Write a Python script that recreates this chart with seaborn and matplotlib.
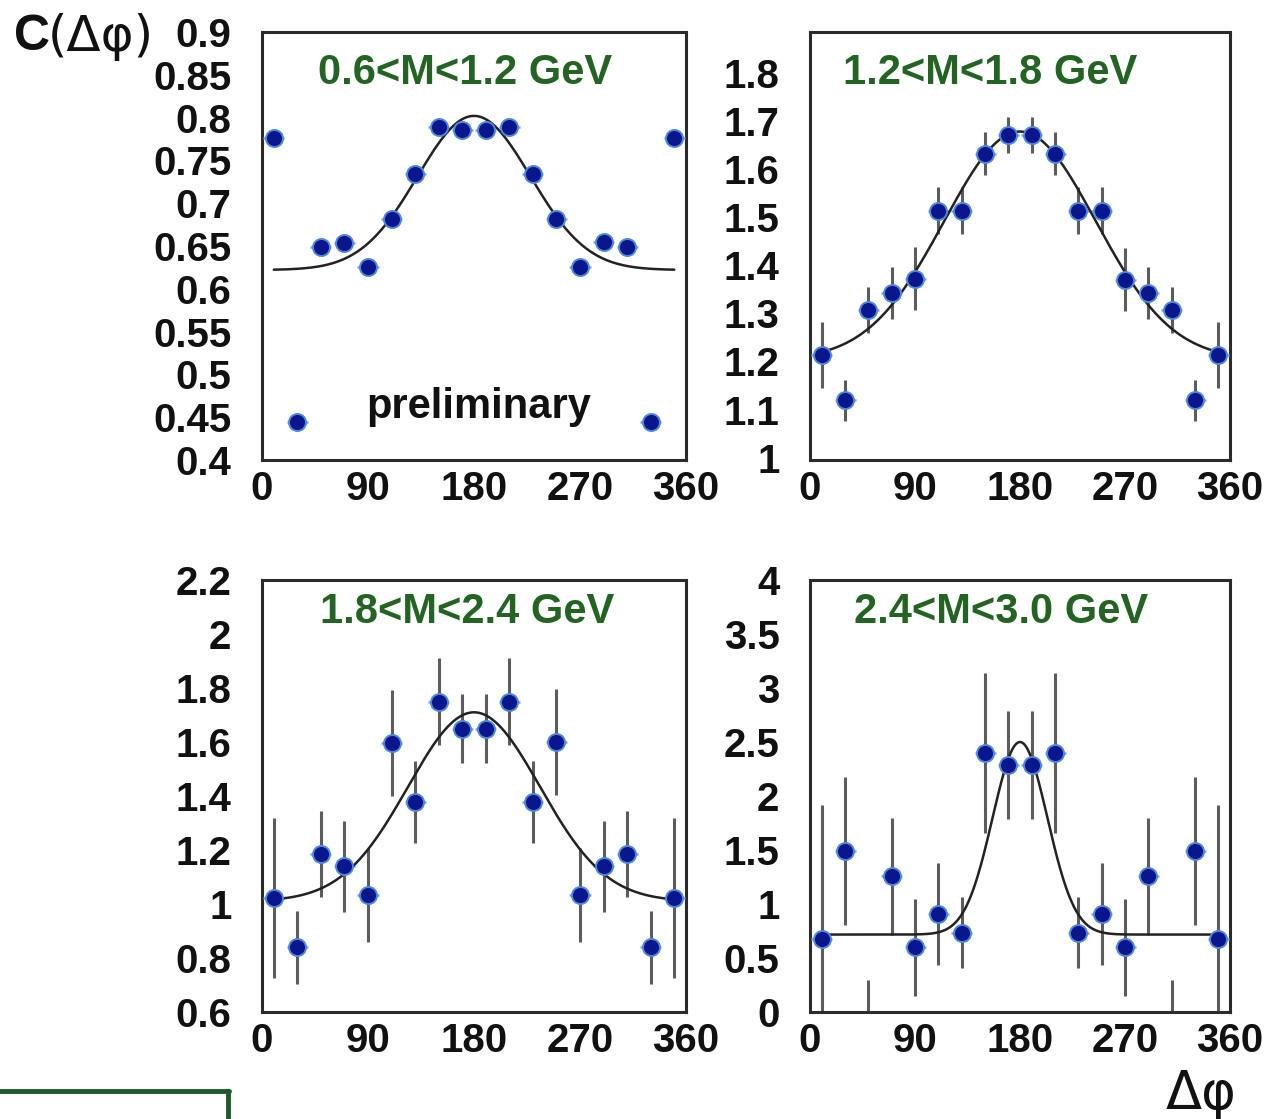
import numpy as np
import pandas as pd
import matplotlib
matplotlib.use("Agg")
import matplotlib.pyplot as plt
from matplotlib.ticker import MultipleLocator, FuncFormatter
from matplotlib.lines import Line2D
import seaborn as sns

sns.set_theme(style="white")
plt.rcParams['font.family'] = ['Liberation Sans', 'DejaVu Sans']

# ---------------- data ----------------
dphi = [10, 30, 50, 70, 90, 110, 130, 150, 170, 190, 210, 230, 250, 270, 290, 310, 330, 350]

labels = ["0.6<M<1.2 GeV", "1.2<M<1.8 GeV", "1.8<M<2.4 GeV", "2.4<M<3.0 GeV"]

c1 = [0.776, 0.444, 0.649, 0.653, 0.625, 0.682, 0.734, 0.789, 0.786,
      0.786, 0.789, 0.734, 0.682, 0.625, 0.655, 0.649, 0.444, 0.776]
e1 = [0.004] * 18

c2 = [1.213, 1.119, 1.307, 1.342, 1.372, 1.513, 1.513, 1.632, 1.671,
      1.671, 1.632, 1.513, 1.513, 1.370, 1.342, 1.307, 1.119, 1.213]
e2 = [0.068, 0.043, 0.047, 0.054, 0.065, 0.049, 0.049, 0.045, 0.038,
      0.038, 0.045, 0.049, 0.049, 0.065, 0.054, 0.047, 0.043, 0.068]

c3 = [1.022, 0.839, 1.186, 1.140, 1.035, 1.596, 1.379, 1.749, 1.650,
      1.650, 1.749, 1.379, 1.600, 1.035, 1.140, 1.186, 0.839, 1.022]
e3 = [0.295, 0.135, 0.160, 0.168, 0.174, 0.196, 0.152, 0.161, 0.127,
      0.127, 0.161, 0.152, 0.196, 0.174, 0.168, 0.160, 0.135, 0.295]

c4 = [0.673, 1.490, -0.200, 1.257, 0.600, 0.907, 0.733, 2.400, 2.283,
      2.283, 2.400, 0.733, 0.907, 0.600, 1.257, -0.200, 1.490, 0.673]
e4 = [1.240, 0.683, 0.500, 0.540, 0.450, 0.470, 0.330, 0.740, 0.500,
      0.500, 0.740, 0.330, 0.470, 0.450, 0.540, 0.500, 0.683, 1.240]

# Gaussian fit parameters: baseline, amplitude, centre, sigma
fit1 = (0.622, 0.180, 180.0, 48.0)
fit2 = (1.204, 0.474, 180.0, 65.0)
fit3 = (1.010, 0.700, 180.0, 56.0)
fit4 = (0.717, 1.783, 180.0, 23.5)

values = [c1, c2, c3, c4]
errors = [e1, e2, e3, e4]
fits = [fit1, fit2, fit3, fit4]

ylims = [(0.4, 0.9), (0.995, 1.885), (0.6, 2.2), (0.0, 4.0)]
ymajor = [0.05, 0.1, 0.2, 0.5]
yminor = [0.025, 0.025, 0.05, 0.1]

# ---------------- layout ----------------
W, H = 1276, 1119
fig = plt.figure(figsize=(W / 100, H / 100), dpi=100)

boxes = [(262, 686, 32, 460), (810, 1230, 32, 460),
         (262, 686, 580, 1012), (810, 1230, 580, 1012)]
label_pos = [(0.479, 0.905), (0.43, 0.905), (0.483, 0.925), (0.455, 0.925)]

green = "#236423"
navy = "#0a168c"
frame_col = "#2b2b2b"

for i in range(4):
    l, r, t, b = boxes[i]
    ax = fig.add_axes([l / W, 1 - b / H, (r - l) / W, (b - t) / H])
    df = pd.DataFrame({"dphi": dphi, "C": values[i], "err": errors[i]})

    # vertical error bars
    ax.errorbar(df["dphi"], df["C"], yerr=df["err"], fmt="none",
                ecolor="#4a4a4a", elinewidth=2.2, capsize=0, zorder=2, alpha=0.9)
    # horizontal arms
    ax.errorbar(df["dphi"], df["C"], xerr=9, fmt="none",
                ecolor="#7aa3ea", elinewidth=1.8, capsize=0, zorder=3)

    # fit curve
    A, B, mu, sig = fits[i]
    xf = np.linspace(dphi[0], dphi[-1], 400)
    yf = A + B * np.exp(-(xf - mu) ** 2 / (2 * sig ** 2))
    sns.lineplot(x=xf, y=yf, ax=ax, color="#222222", linewidth=1.8, zorder=4)

    # points
    sns.scatterplot(data=df, x="dphi", y="C", ax=ax, s=150, color=navy,
                    edgecolor="#4f86e0", linewidth=1.4, zorder=5, clip_on=True)

    ax.set_xlim(0, 360)
    ax.set_ylim(*ylims[i])
    ax.set_xlabel("")
    ax.set_ylabel("")

    ax.xaxis.set_major_locator(MultipleLocator(90))
    ax.xaxis.set_minor_locator(MultipleLocator(22.5))
    ax.yaxis.set_major_locator(MultipleLocator(ymajor[i]))
    ax.yaxis.set_minor_locator(MultipleLocator(yminor[i]))
    ax.yaxis.set_major_formatter(FuncFormatter(lambda v, p: f"{v:g}"))
    ax.xaxis.set_major_formatter(FuncFormatter(lambda v, p: f"{v:g}"))

    ax.tick_params(axis="both", which="major", direction="in", length=14,
                   width=2, color=frame_col, labelsize=29, pad=8,
                   top=False, right=False)
    ax.tick_params(axis="both", which="minor", direction="in", length=7,
                   width=2, color=frame_col, top=False, right=False)
    ax.tick_params(axis="y", which="major", pad=22)
    ax.tick_params(axis="x", which="major", pad=7)
    for lab in ax.get_xticklabels() + ax.get_yticklabels():
        lab.set_fontweight("bold")
        lab.set_color("#111111")

    for s in ax.spines.values():
        s.set_visible(True)
        s.set_color(frame_col)
        s.set_linewidth(2.2)

    ax.text(label_pos[i][0], label_pos[i][1], labels[i], transform=ax.transAxes,
            ha="center", va="center", fontsize=30, fontweight="bold", color=green)
    if i == 0:
        ax.text(0.51, 0.124, "preliminary", transform=ax.transAxes,
                ha="center", va="center", fontsize=30, fontweight="bold",
                color="#111111")

# axis titles
fig.text(14 / W, 1 - 37 / H, "C", fontsize=36, fontweight="bold",
         ha="left", va="center", color="#111111")
fig.text(48 / W, 1 - 37 / H, "(Δφ)", fontsize=36, ha="left", va="center",
         color="#111111", family=["DejaVu Sans"])
fig.text(1236 / W, 1 - 1094 / H, "Δφ", fontsize=38, ha="right", va="center",
         color="#111111", family=["DejaVu Sans"])

# green frame fragment at bottom-left
fig.add_artist(Line2D([0, 229 / W], [1 - 1091 / H, 1 - 1091 / H],
                      transform=fig.transFigure, color="#1d5a2a", linewidth=3.5))
fig.add_artist(Line2D([228 / W, 228 / W], [1 - 1091 / H, 0],
                      transform=fig.transFigure, color="#1d5a2a", linewidth=3.5))

fig.savefig("out.png", dpi=100)
